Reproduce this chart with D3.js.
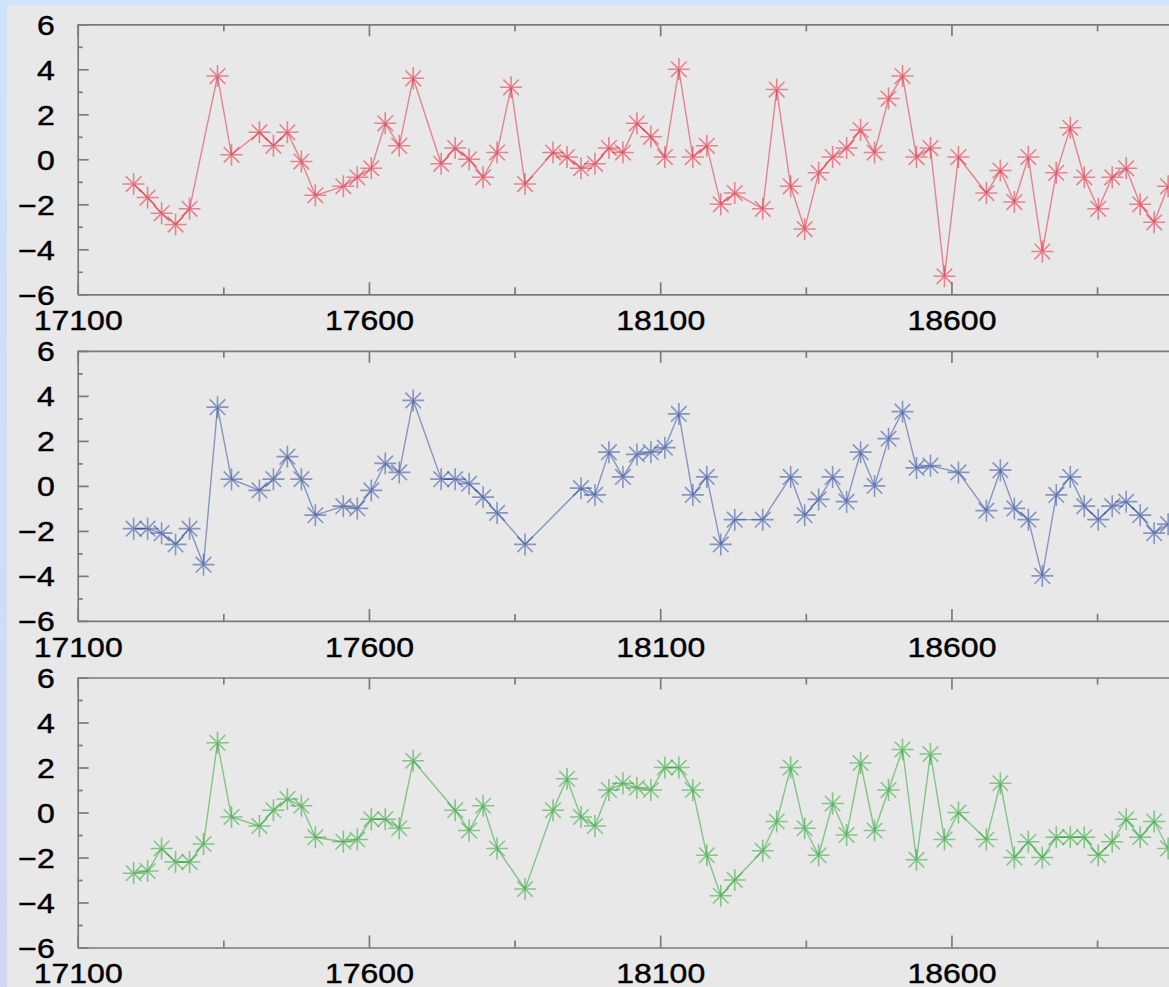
<!DOCTYPE html>
<html>
<head>
<meta charset="utf-8">
<script src="https://cdn.jsdelivr.net/npm/d3@7"></script>
<style>
  html, body { margin: 0; padding: 0; background: #e8e8e8; overflow: hidden; }
  svg { display: block; }
</style>
</head>
<body>
<svg id="chart" width="1169" height="987"></svg>
<script>
// Sample days shared by the three series (null = no observation that day)
const days = [
  17196, 17220, 17244, 17268, 17292, 17316, 17340, 17364, 17388, 17412,
  17436, 17460, 17484, 17508, 17532, 17556, 17580, 17604, 17628, 17652,
  17676, 17700, 17724, 17748, 17772, 17796, 17820, 17844, 17868, 17892,
  17916, 17940, 17964, 17988, 18012, 18036, 18060, 18084, 18108, 18132,
  18156, 18180, 18204, 18228, 18252, 18276, 18300, 18324, 18348, 18372,
  18396, 18420, 18444, 18468, 18492, 18516, 18540, 18564, 18588, 18612,
  18636, 18660, 18684, 18708, 18732, 18756, 18780, 18804, 18828, 18852,
  18876, 18900, 18924, 18948, 18972
];

const redValues = [
  -1.1, -1.7, -2.4, -2.9, -2.2, null, 3.7, 0.2, null, 1.2,
  0.6, 1.2, -0.1, -1.6, null, -1.2, -0.8, -0.4, 1.6, 0.6,
  3.6, null, -0.2, 0.5, 0.0, -0.8, 0.3, 3.2, -1.1, null,
  0.3, 0.1, -0.4, -0.2, 0.5, 0.3, 1.6, 1.0, 0.1, 4.0,
  0.1, 0.6, -2.0, -1.5, null, -2.2, 3.1, -1.2, -3.1, -0.6,
  0.1, 0.5, 1.3, 0.3, 2.7, 3.7, 0.1, 0.5, -5.2, 0.1,
  null, -1.5, -0.5, -1.9, 0.1, -4.1, -0.6, 1.4, -0.8, -2.2,
  -0.8, -0.4, -2.0, -2.8, -1.2
];

const blueValues = [
  -1.9, -1.9, -2.1, -2.6, -1.9, -3.5, 3.5, 0.3, null, -0.2,
  0.3, 1.3, 0.3, -1.3, null, -0.9, -1.0, -0.2, 1.0, 0.6,
  3.8, null, 0.3, 0.3, 0.1, -0.5, -1.2, null, -2.6, null,
  null, null, -0.1, -0.4, 1.5, 0.4, 1.4, 1.5, 1.7, 3.2,
  -0.4, 0.4, -2.6, -1.5, null, -1.5, null, 0.4, -1.3, -0.6,
  0.4, -0.7, 1.5, 0.0, 2.1, 3.3, 0.8, 0.9, null, 0.6,
  null, -1.1, 0.7, -1.0, -1.5, -4.0, -0.4, 0.4, -0.9, -1.5,
  -0.9, -0.7, -1.3, -2.1, -1.7
];

const greenValues = [
  -2.7, -2.6, -1.6, -2.2, -2.2, -1.4, 3.1, -0.2, null, -0.6,
  0.1, 0.6, 0.3, -1.1, null, -1.3, -1.2, -0.3, -0.3, -0.7,
  2.3, null, null, 0.1, -0.8, 0.3, -1.6, null, -3.4, null,
  0.1, 1.5, -0.2, -0.6, 1.0, 1.3, 1.1, 1.0, 2.0, 2.0,
  1.0, -1.9, -3.7, -3.0, null, -1.7, -0.4, 2.0, -0.7, -1.9,
  0.4, -1.0, 2.2, -0.8, 1.0, 2.8, -2.1, 2.6, -1.2, 0.0,
  null, -1.2, 1.3, -2.0, -1.3, -2.0, -1.1, -1.1, -1.1, -1.9,
  -1.3, -0.3, -1.1, -0.4, -1.6
];

const xTicks = [17100, 17600, 18100, 18600];
const xMinorTicks = [17350, 17850, 18350, 18850];
const yTicks = [-6, -4, -2, 0, 2, 4, 6];
const yMinorTicks = [-5, -3, -1, 1, 3, 5];

const panels = [
  { values: redValues,   color: "#e21f38" },
  { values: blueValues,  color: "#26449a" },
  { values: greenValues, color: "#22a02a" }
];

const W = 1169, H = 987;
const svg = d3.select("#chart");

// backdrop: light blue frame strips and the grey canvas
svg.append("rect").attr("x", 0).attr("y", 0).attr("width", W).attr("height", H).attr("fill", "#e8e8e8");
const grad = svg.append("defs").append("linearGradient")
  .attr("id", "frame").attr("x1", 0).attr("y1", 0).attr("x2", 0).attr("y2", 1);
grad.append("stop").attr("offset", "0%").attr("stop-color", "#cde2fb");
grad.append("stop").attr("offset", "100%").attr("stop-color", "#d2d6f8");
svg.append("rect").attr("x", 0).attr("y", 0).attr("width", 7).attr("height", H).attr("fill", "url(#frame)");
svg.append("rect").attr("x", 0).attr("y", 0).attr("width", W).attr("height", 5).attr("fill", "#cfe3fc");

const x = d3.scaleLinear().domain([17100, 19100]).range([77.7, 1242.7]);

const panelTop0 = 24.3, panelStep = 326.6, panelH = 270;
const axisColor = "#7a7a7a";
const font = "'Liberation Sans', Arial, Helvetica, sans-serif";
const starPath = "M-11,0H11M0,-11V11M-7.8,-7.8L7.8,7.8M-7.8,7.8L7.8,-7.8";

function styleAxis(g) {
  g.selectAll("path.domain").attr("stroke", axisColor).attr("stroke-width", 1.7);
  g.selectAll(".tick line").attr("stroke", axisColor).attr("stroke-width", 1.7);
}

function styleLabels(sel) {
  sel.attr("fill", "#000").attr("stroke", "#000").attr("stroke-width", 0.5)
    .attr("font-size", 32).attr("font-family", font);
}

panels.forEach((p, i) => {
  const top = panelTop0 + i * panelStep;
  const bottom = top + panelH;
  const y = d3.scaleLinear().domain([-6, 6]).range([bottom, top]);
  const g = svg.append("g");

  // bottom axis with labels, ticks pointing into the plot
  const gb = g.append("g").attr("transform", `translate(0,${bottom})`)
    .call(d3.axisBottom(x).tickValues(xTicks).tickSizeInner(-12).tickSizeOuter(0).tickFormat(d3.format("d")));
  gb.selectAll("text").call(styleLabels)
    .attr("dy", 0).attr("y", 36 / 0.85).attr("transform", "scale(1,0.85)");
  styleAxis(gb);
  g.append("g").attr("transform", `translate(0,${bottom})`)
    .call(d3.axisBottom(x).tickValues(xMinorTicks).tickSizeInner(-7).tickSizeOuter(0).tickFormat(""))
    .call(a => a.select("path.domain").remove()).call(styleAxis);

  // top mirror axis
  const gt = g.append("g").attr("transform", `translate(0,${top})`)
    .call(d3.axisTop(x).tickValues(xTicks).tickSizeInner(-12).tickSizeOuter(0).tickFormat(""));
  styleAxis(gt);
  g.append("g").attr("transform", `translate(0,${top})`)
    .call(d3.axisTop(x).tickValues(xMinorTicks).tickSizeInner(-7).tickSizeOuter(0).tickFormat(""))
    .call(a => a.select("path.domain").remove()).call(styleAxis);

  // left axis
  const gl = g.append("g").attr("transform", `translate(${x(17100)},0)`)
    .call(d3.axisLeft(y).tickValues(yTicks).tickSizeInner(-11).tickSizeOuter(0).tickPadding(23));
  gl.selectAll("text").call(styleLabels)
    .attr("dy", "0.36em").attr("transform", "scale(1,0.85)");
  styleAxis(gl);
  g.append("g").attr("transform", `translate(${x(17100)},0)`)
    .call(d3.axisLeft(y).tickValues(yMinorTicks).tickSizeInner(-5).tickSizeOuter(0).tickFormat(""))
    .call(a => a.select("path.domain").remove()).call(styleAxis);

  // series: connecting line plus asterisk markers
  const pts = days.map((d, k) => ({ day: d, v: p.values[k] })).filter(q => q.v !== null);
  const line = d3.line().x(q => x(q.day)).y(q => y(q.v));
  g.append("path").datum(pts)
    .attr("d", line).attr("fill", "none")
    .attr("stroke", p.color).attr("stroke-opacity", 0.5).attr("stroke-width", 1.4);
  g.selectAll("path.star").data(pts).join("path")
    .attr("class", "star")
    .attr("transform", q => `translate(${x(q.day)},${y(q.v)})`)
    .attr("d", starPath).attr("fill", "none")
    .attr("stroke", p.color).attr("stroke-opacity", 0.5).attr("stroke-width", 1.6);
});
</script>
</body>
</html>
